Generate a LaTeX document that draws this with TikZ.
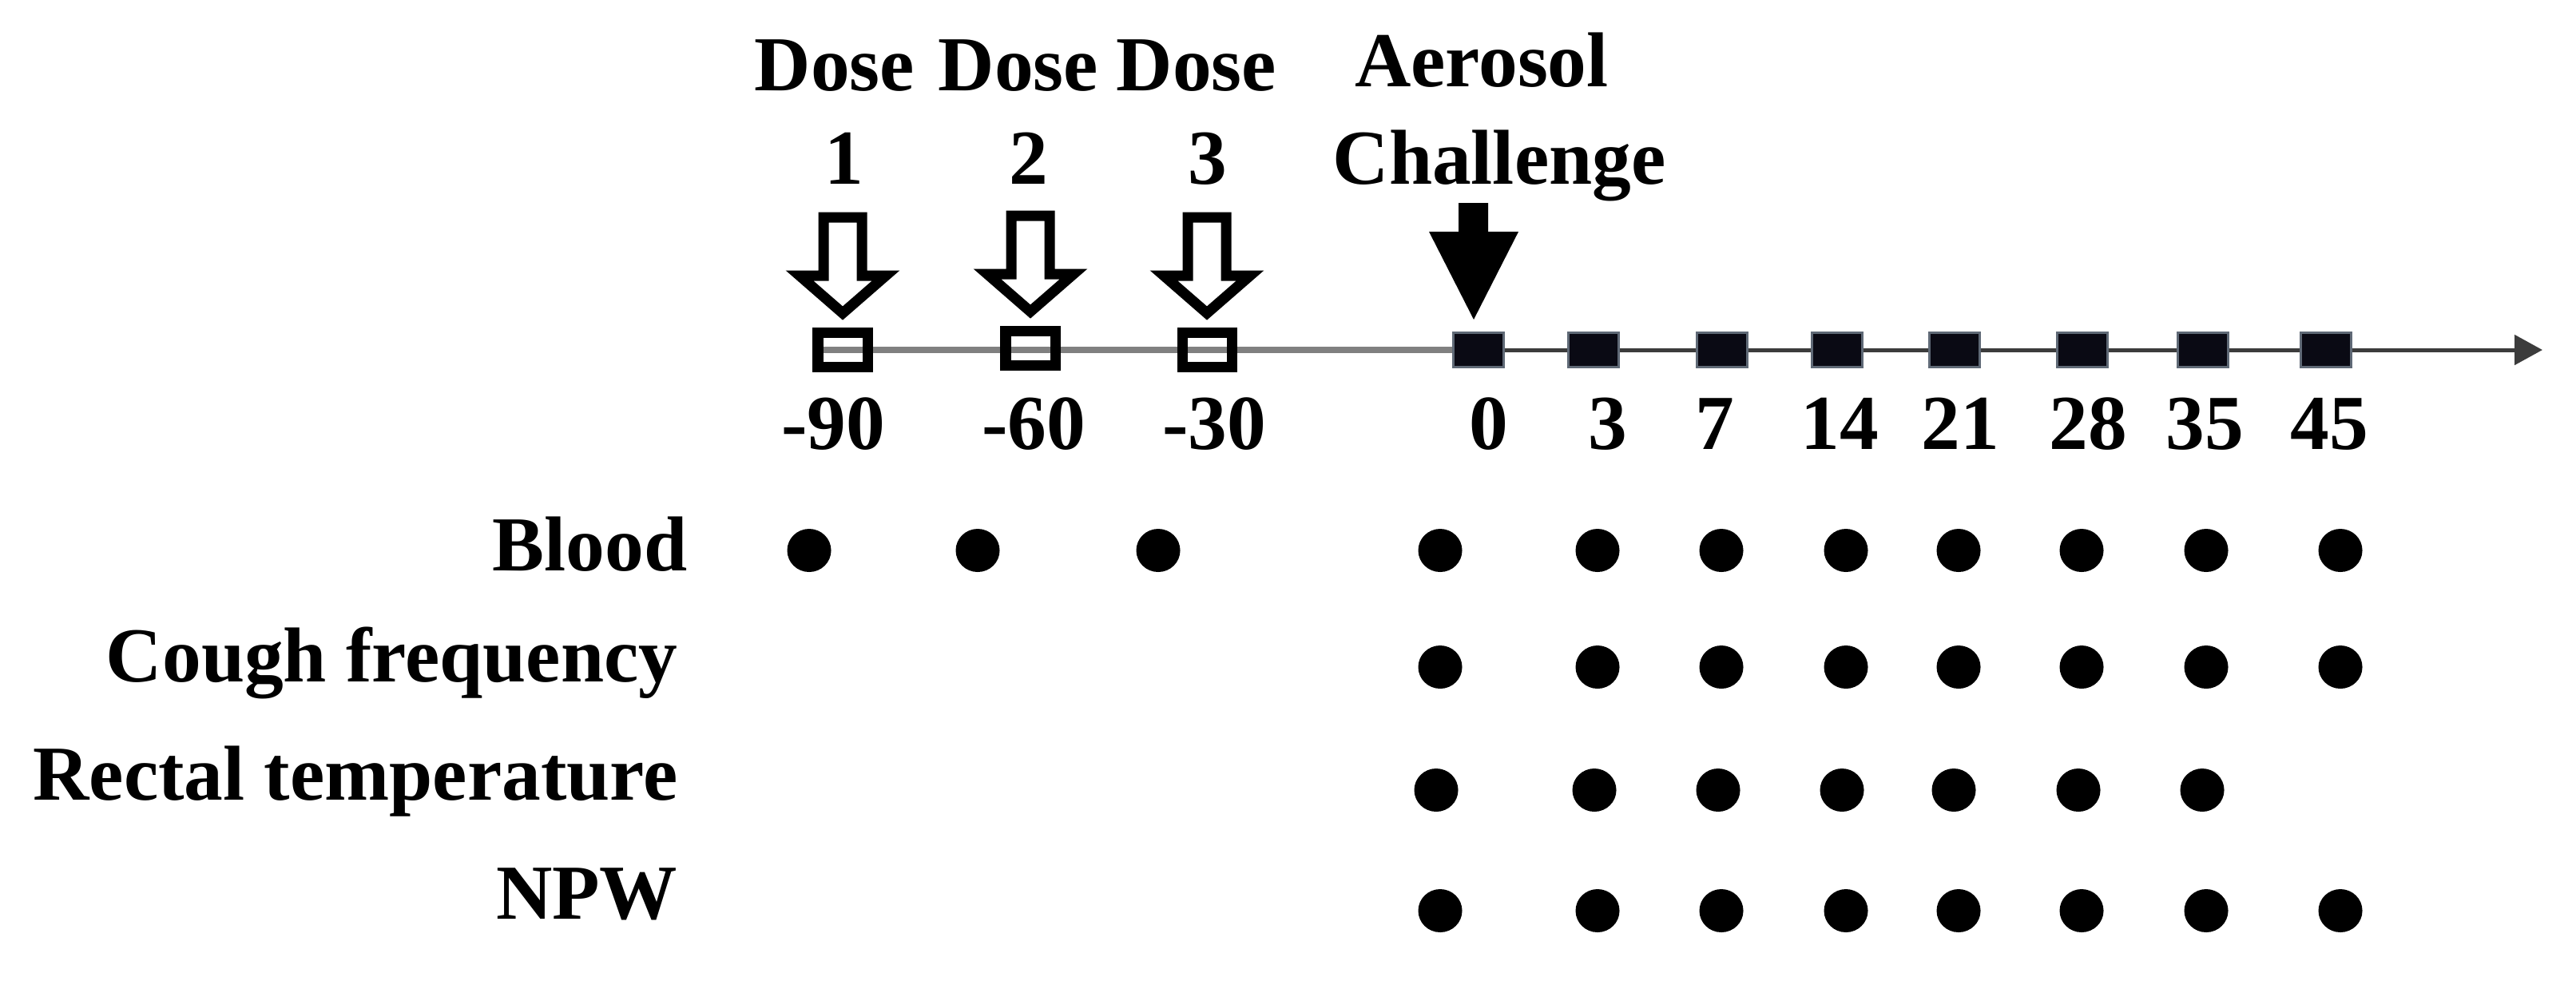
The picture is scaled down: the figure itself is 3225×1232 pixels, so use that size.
\documentclass[tikz,border=0pt]{standalone}
\usepackage{fontspec}
\setmainfont{Liberation Serif}
\usetikzlibrary{calc,arrows.meta,shapes.geometric}
\definecolor{axisgrey}{RGB}{128,128,128}
\definecolor{axisdark}{RGB}{60,60,60}
\definecolor{sqfill}{RGB}{10,10,20}
\definecolor{sqborder}{RGB}{95,105,118}
\begin{document}
\begin{tikzpicture}[x=0.01cm,y=-0.01cm,
  lbl/.style={font=\fontsize{27.7}{33}\selectfont\bfseries, inner sep=0, anchor=base},
  rowlbl/.style={lbl, anchor=base east},
  opensq/.style={rectangle, draw=black, line width=0.13cm, minimum width=0.62cm, minimum height=0.43cm, inner sep=0},
  fillsq/.style={rectangle, draw=sqborder, fill=sqfill, line width=0.03cm, minimum width=0.63cm, minimum height=0.43cm, inner sep=0},
  dot/.style={ellipse, fill=black, minimum width=0.55cm, minimum height=0.54cm, inner sep=0},
  openarr/.style={draw=black, fill=white, line width=0.13cm, miter limit=10},
  fillarr/.style={fill=black},
  greyline/.style={draw=axisgrey, line width=0.08cm},
  darkline/.style={draw=axisdark, line width=0.05cm, -{Triangle[length=0.35cm,width=0.37cm]}}
]
\useasboundingbox (0,0) rectangle (3225,1232);

% square positions on the axis
\coordinate (axisend) at (3183,438);
\path (1055,438) node[opensq] (o1) {} (1290,436) node[opensq] (o2) {} (1511,438) node[opensq] (o3) {};
\foreach \x [count=\i] in {1851,1995,2156,2300,2447,2607,2758,2912}
  \path (\x,438) node[fillsq, opacity=0] (f\i) {};

% axis
\draw[greyline] ($(o1)+(-24,0)$) -- (f1.west);
\draw[darkline] (f1.east) -- (axisend);

% squares drawn over the axis
\path (1055,438) node[opensq] {} (1290,436) node[opensq] {} (1511,438) node[opensq] {};
\foreach \x [count=\i] in {1851,1995,2156,2300,2447,2607,2758,2912}
  \path (\x,438) node[fillsq] {};

% open dose arrows
\foreach \s in {o1,o2,o3}
  \draw[openarr] ($(\s)+(-24,-166)$) -- ($(\s)+(24,-166)$) -- ($(\s)+(24,-93)$)
     -- ($(\s)+(54,-93)$) -- ($(\s)+(0,-46)$) -- ($(\s)+(-54,-93)$)
     -- ($(\s)+(-24,-93)$) -- cycle;

% filled challenge arrow
\fill[fillarr] ($(f1)+(-25,-184)$) -- ($(f1)+(12,-184)$) -- ($(f1)+(12,-148)$)
   -- ($(f1)+(50,-148)$) -- ($(f1)+(-6,-38)$) -- ($(f1)+(-62,-148)$)
   -- ($(f1)+(-25,-148)$) -- cycle;

% top labels
\node[lbl] (d1a) at (1045,113) {Dose};
\node[lbl] (d1b) at (1057,230) {1};
\node[lbl] (d2a) at (1275,113) {Dose};
\node[lbl] (d2b) at (1288,230) {2};
\node[lbl] (d3a) at (1498,113) {Dose};
\node[lbl] (d3b) at (1512,230) {3};
\node[lbl] (aer) at (1855,108) {Aerosol};
\node[lbl] (cha) at (1877,230) {Challenge};

% day labels
\foreach \x/\t in {1043/-90,1294/-60,1520/-30,1864/0,2013/3,2147/7,2303/14,2454/21,2614/28,2760/35,2916/45}
  \node[lbl] (day\t) at (\x,562) {\t};

% row labels
\node[rowlbl] (blood) at (861,714) {Blood};
\node[rowlbl] (cough) at (849,853) {Cough frequency};
\node[rowlbl] (rectal) at (849,1001) {Rectal temperature};
\node[rowlbl] (npw) at (849,1150) {NPW};

% dots
\foreach \x [count=\i] in {1013,1224,1450,1803,2000,2155,2311,2452,2606,2762,2930}
  \node[dot] (bd\i) at (\x,689) {};
\foreach \x [count=\i] in {1803,2000,2155,2311,2452,2606,2762,2930}
  \node[dot] (cd\i) at (\x,835) {};
\foreach \x [count=\i] in {1798,1996,2151,2306,2446,2602,2757}
  \node[dot] (rd\i) at (\x,989) {};
\foreach \x [count=\i] in {1803,2000,2155,2311,2452,2606,2762,2930}
  \node[dot] (nd\i) at (\x,1140) {};
\end{tikzpicture}
\end{document}
